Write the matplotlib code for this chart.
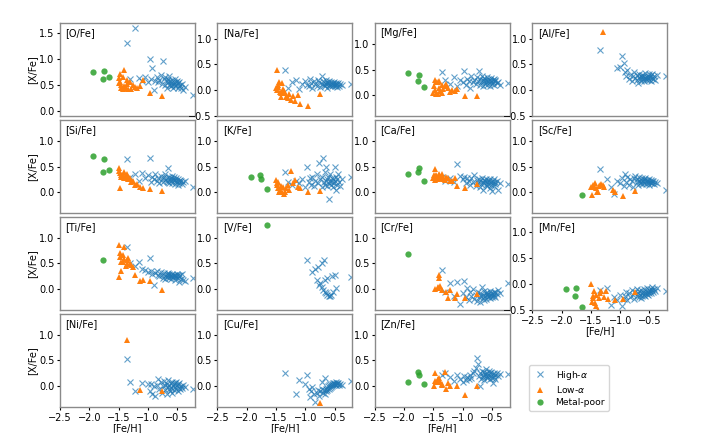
import numpy as np
import matplotlib
matplotlib.use('Agg')
import matplotlib.pyplot as plt
from matplotlib.ticker import MultipleLocator

nan = np.nan

elements = ['O', 'Na', 'Mg', 'Al', 'Si', 'K', 'Ca', 'Sc',
            'Ti', 'V', 'Cr', 'Mn', 'Ni', 'Cu', 'Zn']

# [Fe/H] of the three groups
hi_feh = [-1.35, -1.30, -1.22, -1.15, -1.10, -1.05, -1.00, -0.97, -0.94, -0.92,
          -0.90, -0.88, -0.85, -0.83, -0.80, -0.78, -0.76, -0.74, -0.72, -0.71,
          -0.70, -0.68, -0.67, -0.66, -0.65, -0.64, -0.63, -0.62, -0.61, -0.60,
          -0.59, -0.58, -0.57, -0.56, -0.55, -0.54, -0.53, -0.52, -0.51, -0.50,
          -0.49, -0.48, -0.47, -0.46, -0.45, -0.44, -0.42, -0.40, -0.37, -0.22]
lo_feh = [-1.50, -1.48, -1.47, -1.45, -1.43, -1.41, -1.40, -1.38, -1.36, -1.35,
          -1.33, -1.30, -1.28, -1.25, -1.21, -1.18, -1.13, -1.09, -0.96, -0.75,
          -1.49, -1.46, -1.42]
mp_feh = [-1.93, -1.75, -1.77, -1.66]

# high-alpha [X/Fe]
hi_O  = [1.31, 0.62, 1.61, 0.63, 0.58, 0.65, 0.55, 1.01, 0.62, 0.83,
         0.40, 0.58, 0.66, 0.55, 0.60, 0.70, 0.52, 0.96, 0.62, 0.50,
         0.66, 0.58, 0.45, 0.55, 0.62, 0.50, 0.68, 0.57, 0.48, 0.53,
         0.60, 0.50, 0.45, 0.56, 0.52, 0.62, 0.48, 0.55, 0.50, 0.58,
         0.45, 0.53, 0.48, 0.56, 0.50, 0.44, 0.52, 0.40, 0.47, 0.30]
hi_Na = [0.39, 0.05, 0.15, 0.20, 0.02, 0.12, 0.18, 0.10, 0.08, 0.22,
         0.14, 0.05, 0.18, 0.12, 0.09, 0.20, 0.15, 0.06, 0.12, 0.27,
         0.18, 0.10, 0.14, 0.08, 0.20, 0.12, 0.16, 0.05, 0.13, 0.10,
         0.18, 0.11, 0.08, 0.15, 0.12, 0.09, 0.14, 0.10, 0.16, 0.08,
         0.12, 0.10, 0.14, 0.07, 0.11, 0.13, 0.09, 0.12, 0.10, 0.12]
hi_Mg = [0.46, 0.30, 0.22, 0.35, 0.18, 0.30, 0.25, 0.47, 0.20, 0.32,
         0.28, 0.15, 0.38, 0.25, 0.30, 0.22, 0.35, 0.28, 0.47, 0.20,
         0.32, 0.25, 0.38, 0.30, 0.18, 0.27, 0.34, 0.22, 0.30, 0.26,
         0.36, 0.20, 0.28, 0.32, 0.24, 0.30, 0.18, 0.27, 0.33, 0.22,
         0.29, 0.25, 0.31, 0.20, 0.27, 0.30, 0.23, 0.26, 0.20, 0.23]
hi_Al = [0.78, nan, nan, nan, nan, 0.42, 0.44, 0.66, 0.52, 0.35,
         0.28, 0.40, 0.22, 0.30, 0.18, 0.27, 0.35, 0.24, 0.20, 0.30,
         0.14, 0.26, 0.32, 0.22, 0.28, 0.18, 0.25, 0.30, 0.21, 0.27,
         0.17, 0.24, 0.33, 0.22, 0.26, 0.19, 0.28, 0.23, 0.31, 0.20,
         0.25, 0.29, 0.18, 0.24, 0.32, 0.22, 0.27, 0.20, 0.30, 0.27]
hi_Si = [0.64, 0.30, 0.35, 0.22, 0.38, 0.28, 0.33, 0.66, 0.20, 0.30,
         0.25, 0.35, 0.22, 0.28, 0.18, 0.32, 0.25, 0.20, 0.30, 0.24,
         0.35, 0.22, 0.27, 0.47, 0.20, 0.30, 0.18, 0.25, 0.28, 0.22,
         0.32, 0.19, 0.26, 0.23, 0.29, 0.17, 0.24, 0.21, 0.27, 0.20,
         0.25, 0.15, 0.22, 0.19, 0.24, 0.21, 0.17, 0.20, 0.22, 0.11]
hi_K  = [0.40, 0.20, 0.15, 0.22, 0.18, 0.25, 0.10, 0.50, 0.20, 0.28,
         0.15, 0.30, 0.12, 0.22, 0.35, 0.18, 0.56, 0.25, 0.10, 0.30,
         0.66, 0.20, 0.15, 0.40, 0.22, 0.50, 0.12, 0.25, 0.30, -0.13,
         0.18, 0.35, 0.22, 0.15, 0.28, 0.20, 0.10, 0.25, 0.18, 0.50,
         0.22, 0.30, 0.05, 0.15, 0.25, 0.35, 0.20, 0.12, 0.25, 0.30]
hi_Ca = [0.30, 0.22, 0.28, 0.20, 0.54, 0.32, 0.25, 0.30, 0.18, 0.27,
         0.22, 0.15, 0.28, 0.20, 0.33, 0.12, 0.24, 0.18, 0.26, 0.10,
         0.22, 0.16, 0.28, 0.20, 0.05, 0.24, 0.18, 0.22, 0.14, 0.26,
         0.20, 0.12, 0.23, 0.17, 0.21, 0.08, 0.25, 0.15, 0.20, 0.03,
         0.22, 0.18, 0.26, 0.12, 0.20, 0.16, 0.22, 0.05, 0.18, 0.16]
hi_Sc = [0.45, nan, 0.25, 0.11, -0.04, 0.22, 0.18, 0.28, 0.12, 0.35,
         0.20, 0.30, 0.15, 0.25, 0.22, 0.10, 0.28, 0.32, 0.20, 0.25,
         0.15, 0.22, 0.30, 0.18, 0.24, 0.20, 0.27, 0.16, 0.22, 0.25,
         0.19, 0.23, 0.28, 0.17, 0.21, 0.24, 0.18, 0.22, 0.26, 0.15,
         0.20, 0.23, 0.18, 0.21, 0.19, 0.22, 0.17, 0.20, 0.18, 0.05]
hi_Ti = [0.81, 0.50, 0.45, 0.52, 0.40, 0.38, 0.34, 0.60, 0.35, 0.30,
         0.08, 0.32, 0.36, 0.28, 0.25, 0.33, 0.27, 0.22, 0.31, 0.26,
         0.20, 0.29, 0.24, 0.32, 0.27, 0.22, 0.30, 0.25, 0.28, 0.20,
         0.26, 0.30, 0.23, 0.27, 0.25, 0.18, 0.28, 0.24, 0.26, 0.30,
         0.22, 0.27, 0.15, 0.25, 0.28, 0.20, 0.30, 0.18, 0.16, 0.21]
hi_V  = [nan, nan, nan, nan, nan, nan, nan, 0.57, nan, nan,
         nan, 0.34, nan, 0.39, 0.18, 0.44, 0.08, 0.12, 0.04, 0.50,
         -0.01, 0.57, 0.18, -0.05, nan, -0.08, 0.22, -0.10, nan, -0.12,
         nan, -0.13, nan, -0.10, 0.25, nan, -0.06, nan, nan, 0.28,
         nan, 0.02, nan, nan, nan, nan, nan, nan, nan, 0.23]
hi_Cr = [0.38, -0.05, 0.12, -0.12, 0.15, -0.29, -0.08, 0.17, -0.15, 0.02,
         -0.20, -0.05, -0.12, 0.00, -0.18, -0.10, -0.22, -0.06, -0.14, -0.25,
         -0.08, -0.12, 0.05, -0.16, -0.10, -0.20, -0.04, -0.13, -0.08, -0.18,
         -0.11, -0.06, -0.15, -0.09, -0.12, -0.03, -0.17, -0.10, -0.07, -0.14,
         -0.08, -0.12, -0.05, -0.10, -0.15, -0.06, -0.09, -0.02, -0.07, 0.13]
hi_Mn = [-0.11, nan, -0.07, -0.40, -0.25, -0.30, -0.20, -0.43, -0.28, -0.22,
         -0.15, -0.30, -0.18, -0.25, -0.12, -0.20, -0.28, -0.16, -0.22, -0.10,
         -0.18, -0.24, -0.14, -0.20, -0.26, -0.12, -0.18, -0.22, -0.15, -0.20,
         -0.10, -0.17, -0.23, -0.13, -0.19, -0.08, -0.16, -0.21, -0.12, -0.18,
         -0.14, -0.09, -0.17, -0.12, -0.06, -0.15, -0.10, -0.13, -0.08, -0.14]
hi_Ni = [0.52, 0.08, -0.10, nan, 0.06, nan, 0.05, -0.10, 0.04, -0.15,
         0.00, -0.19, 0.02, 0.15, -0.05, 0.08, -0.12, 0.00, 0.10, -0.08,
         0.03, -0.14, 0.05, -0.02, 0.12, -0.06, 0.02, -0.10, 0.06, -0.03,
         0.08, -0.12, 0.00, 0.04, -0.07, 0.06, -0.02, 0.09, -0.05, 0.02,
         -0.09, 0.04, -0.03, 0.07, -0.06, 0.01, -0.04, 0.03, -0.02, -0.06]
hi_Cu = [0.26, nan, nan, -0.15, 0.12, nan, 0.05, 0.22, -0.05, -0.20,
         -0.10, -0.02, -0.15, -0.30, -0.12, -0.08, -0.18, -0.10, -0.06, 0.08,
         -0.12, -0.08, -0.14, 0.17, -0.05, -0.10, -0.03, -0.08, 0.00, -0.06,
         0.02, -0.04, 0.04, -0.02, 0.05, 0.00, 0.06, 0.02, 0.07, 0.03,
         0.05, 0.08, 0.02, 0.06, 0.04, 0.07, 0.03, 0.05, 0.02, 0.10]
hi_Zn = [0.22, 0.25, 0.18, 0.10, 0.22, 0.15, 0.08, 0.20, 0.12, 0.18,
         0.14, 0.22, 0.16, 0.25, 0.30, 0.36, 0.54, 0.44, 0.20, 0.00,
         0.25, 0.15, 0.30, 0.22, 0.18, 0.28, 0.12, 0.24, 0.20, 0.33,
         0.16, 0.26, 0.22, 0.18, 0.30, 0.14, 0.25, 0.20, 0.28, 0.16,
         0.23, 0.06, 0.26, 0.19, 0.22, 0.15, 0.25, 0.20, 0.24, 0.23]

# low-alpha [X/Fe]
lo_O  = [0.63, 0.56, 0.71, 0.50, 0.43, 0.79, 0.48, 0.45, 0.52, 0.60,
         0.43, 0.56, 0.42, 0.50, 0.47, 0.45, 0.48, 0.60, 0.35, 0.28,
         0.53, 0.45, 0.66]
lo_Na = [0.05, 0.39, 0.06, 0.16, -0.03, -0.13, 0.13, 0.03, -0.02, -0.06,
         -0.13, -0.16, -0.08, -0.19, -0.12, -0.21, -0.10, -0.26, -0.31, -0.08,
         0.00, 0.10, -0.05]
lo_Mg = [0.05, 0.30, 0.10, 0.25, 0.03, 0.15, 0.28, 0.08, 0.20, 0.05,
         0.12, 0.18, 0.22, 0.14, 0.06, 0.10, 0.08, 0.12, -0.01, -0.01,
         0.18, 0.02, 0.26]
lo_Al = [nan, nan, nan, nan, nan, nan, nan, nan, nan, nan,
         nan, 1.12, nan, nan, nan, nan, nan, nan, nan, nan,
         nan, nan, nan]
lo_Si = [0.47, 0.08, 0.37, 0.30, 0.34, 0.40, 0.28, 0.34, 0.36, 0.30,
         0.25, 0.27, 0.20, 0.22, 0.14, 0.17, 0.10, 0.08, 0.06, 0.03,
         0.42, 0.33, 0.31]
lo_K  = [0.24, 0.14, 0.20, 0.00, 0.05, 0.10, 0.00, 0.11, -0.04, 0.01,
         0.08, 0.14, 0.05, 0.42, 0.18, 0.24, 0.11, 0.08, 0.01, 0.03,
         0.18, 0.08, 0.12]
lo_Ca = [0.28, 0.24, 0.45, 0.34, 0.30, 0.36, 0.28, 0.30, 0.36, 0.32,
         0.26, 0.24, 0.30, 0.27, 0.22, 0.21, 0.27, 0.13, 0.09, 0.16,
         0.33, 0.31, 0.25]
lo_Sc = [0.11, -0.05, 0.10, nan, 0.19, 0.08, 0.01, 0.00, 0.12, 0.15,
         0.17, 0.14, 0.10, nan, nan, nan, 0.05, 0.01, -0.07, 0.03,
         nan, 0.15, nan]
lo_Ti = [0.85, 0.70, 0.63, 0.36, 0.52, 0.81, 0.58, 0.45, 0.49, 0.56,
         0.61, 0.50, 0.47, 0.44, 0.27, nan, 0.16, 0.18, 0.16, -0.01,
         0.23, 0.52, 0.66]
lo_V  = [nan] * 23
lo_Cr = [nan, 0.00, nan, nan, 0.04, 0.28, 0.21, 0.06, -0.01, nan,
         nan, nan, -0.05, -0.16, -0.01, nan, -0.16, -0.09, -0.17, -0.09,
         nan, nan, 0.02]
lo_Mn = [0.00, nan, -0.27, -0.14, -0.37, -0.43, nan, -0.50, -0.27, -0.17,
         -0.14, nan, -0.24, -0.14, -0.29, nan, nan, -0.30, -0.29, -0.16,
         -0.35, -0.22, -0.20]
lo_Ni = [nan, nan, nan, nan, nan, nan, nan, nan, 0.89, nan,
         nan, nan, nan, nan, nan, nan, -0.08, nan, nan, -0.10,
         nan, nan, nan]
lo_Cu = [nan, nan, nan, nan, nan, nan, nan, nan, nan, nan,
         nan, nan, nan, nan, nan, nan, nan, nan, nan, -0.33,
         nan, nan, nan]
lo_Zn = [nan, 0.25, 0.10, nan, 0.13, 0.16, 0.12, 0.08, 0.05, 0.03,
         nan, 0.27, -0.06, 0.06, 0.01, nan, nan, 0.00, -0.16, 0.00,
         0.00, 0.08, 0.14]

# metal-poor [X/Fe]
mp_O  = [0.76, 0.77, 0.61, 0.65]
mp_Na = [nan, nan, nan, nan]
mp_Mg = [0.44, 0.40, 0.27, 0.16]
mp_Al = [nan, nan, nan, nan]
mp_Si = [0.71, 0.65, 0.39, 0.43]
mp_K  = [0.30, 0.25, 0.34, 0.06]
mp_Ca = [0.36, 0.47, 0.40, 0.21]
mp_Sc = [nan, nan, nan, -0.06]
mp_Ti = [nan, nan, 0.56, nan]
mp_V  = [nan, nan, nan, 1.25]
mp_Cr = [0.68, nan, nan, nan]
mp_Mn = [-0.10, -0.08, -0.23, -0.45]
mp_Ni = [nan, nan, nan, nan]
mp_Cu = [nan, nan, nan, nan]
mp_Zn = [0.08, 0.21, 0.27, 0.05]

hi = [hi_O, hi_Na, hi_Mg, hi_Al, hi_Si, hi_K, hi_Ca, hi_Sc,
      hi_Ti, hi_V, hi_Cr, hi_Mn, hi_Ni, hi_Cu, hi_Zn]
lo = [lo_O, lo_Na, lo_Mg, lo_Al, lo_Si, lo_K, lo_Ca, lo_Sc,
      lo_Ti, lo_V, lo_Cr, lo_Mn, lo_Ni, lo_Cu, lo_Zn]
mp = [mp_O, mp_Na, mp_Mg, mp_Al, mp_Si, mp_K, mp_Ca, mp_Sc,
      mp_Ti, mp_V, mp_Cr, mp_Mn, mp_Ni, mp_Cu, mp_Zn]

if __name__ == '__main__':

  plt.rcParams['font.size'] = 7

  fig, ax = plt.subplots(4, 4, figsize=(7.07, 4.33), dpi=100)
  fig.subplots_adjust(left=60/707., right=667/707., top=1-23/433., bottom=1-407/433.,
                      wspace=0.17, hspace=0.043)

  handles = None
  for k, el in enumerate(elements):
    axes = ax[k // 4, k % 4]
    h1, = axes.plot(hi_feh, hi[k], 'x', color='C0', ms=4.5, mew=0.8, alpha=0.7,
                    label=r'High-$\alpha$')
    h2, = axes.plot(lo_feh, lo[k], '^', color='C1', ms=4.5, mew=0,
                    label=r'Low-$\alpha$')
    h3, = axes.plot(mp_feh, mp[k], 'o', color='C2', ms=4.5, mew=0, alpha=0.85,
                    label='Metal-poor')
    if handles is None:
      handles = [h1, h2, h3]

    axes.set_xlim(-2.5, -0.2)
    if el == 'O':
      axes.set_ylim(-0.1, 1.7)
    elif el in ('Na', 'Al', 'Mn'):
      axes.set_ylim(-0.5, 1.3)
    else:
      axes.set_ylim(-0.4, 1.4)
    axes.xaxis.set_major_locator(MultipleLocator(0.5))
    axes.yaxis.set_major_locator(MultipleLocator(0.5))
    axes.tick_params(length=2.5, width=0.8, pad=1.5, labelsize=7)

    for s in axes.spines.values():
      s.set_edgecolor('#8a8a8a')
      s.set_linewidth(1.0)

    axes.text(0.04, 0.895, '[%s/Fe]' % el, transform=axes.transAxes,
              ha='left', va='center', fontsize=7)

    if k % 4 == 0:
      axes.set_ylabel('[X/Fe]', labelpad=1)
    if k >= 11:
      axes.set_xlabel('[Fe/H]', labelpad=0.5)
    else:
      axes.tick_params(axis='x', bottom=False, labelbottom=False)

  ax[3, 3].axis('off')

  fig.legend(handles=handles, loc='upper left', bbox_to_anchor=(529/707., 1-365/433.),
             fontsize=6.6, handlelength=1.5, handletextpad=1.0, borderpad=0.4,
             labelspacing=0.3, borderaxespad=0, frameon=True)

  fig.savefig('out.png', dpi=100)
